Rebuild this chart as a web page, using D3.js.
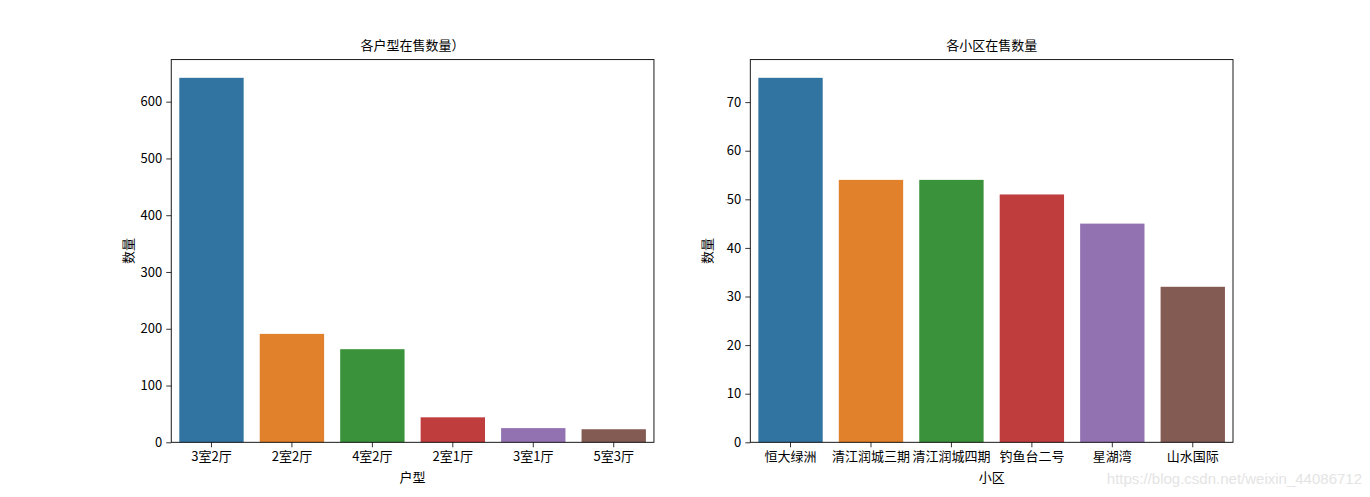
<!DOCTYPE html>
<html>
<head>
<meta charset="utf-8">
<script src="https://cdn.jsdelivr.net/npm/d3@7"></script>
<style>
  body { margin: 0; background: #fff; }
  svg { font-family: 'Noto Sans CJK SC', 'Noto Sans', sans-serif; }
</style>
</head>
<body>
<div id="chart"></div>
<script>
// data
const layoutNames = ['3室2厅', '2室2厅', '4室2厅', '2室1厅', '3室1厅', '5室3厅'];
const layoutCounts = [642, 191, 164, 44, 25, 23];
const layoutTicks = [0, 100, 200, 300, 400, 500, 600];

const estateNames = ['恒大绿洲', '清江润城三期', '清江润城四期', '钓鱼台二号', '星湖湾', '山水国际'];
const estateCounts = [75, 54, 54, 51, 45, 32];
const estateTicks = [0, 10, 20, 30, 40, 50, 60, 70];

const palette = ['#3274a1', '#e1812c', '#3a923a', '#c03d3e', '#9372b2', '#845b53'];

const width = 1370;
const height = 497;

const svg = d3.select('#chart')
  .append('svg')
  .attr('width', width)
  .attr('height', height);

function drawPanel(left, names, counts, ticks, title, xLabel) {
  const w = 482.7;
  const top = 59.6;
  const bottom = 442.3;

  const g = svg.append('g');

  const x = d3.scaleBand()
    .domain(names)
    .range([left, left + w])
    .paddingInner(0.2)
    .paddingOuter(0.1);

  const y = d3.scaleLinear()
    .domain([0, d3.max(counts) * 1.05])
    .range([bottom, top]);

  // bars
  g.selectAll('rect.bar')
    .data(names)
    .join('rect')
    .attr('class', 'bar')
    .attr('x', d => x(d))
    .attr('width', x.bandwidth())
    .attr('y', (d, i) => y(counts[i]))
    .attr('height', (d, i) => y(0) - y(counts[i]))
    .attr('fill', (d, i) => palette[i]);

  // axes
  const xAxis = g.append('g')
    .attr('transform', `translate(0, ${bottom})`)
    .call(d3.axisBottom(x).tickSize(5).tickPadding(4));
  const yAxis = g.append('g')
    .attr('transform', `translate(${left}, 0)`)
    .call(d3.axisLeft(y).tickValues(ticks).tickSize(5).tickPadding(4));

  [xAxis, yAxis].forEach(a => {
    a.select('.domain').remove();
    a.selectAll('text').attr('font-size', 13).attr('fill', '#000')
      .attr('font-family', "'Noto Sans CJK SC', sans-serif");
    a.selectAll('line').attr('stroke', '#000').attr('stroke-width', 0.8);
  });

  // frame
  g.append('rect')
    .attr('x', left)
    .attr('y', top)
    .attr('width', w)
    .attr('height', bottom - top)
    .attr('fill', 'none')
    .attr('stroke', '#000')
    .attr('stroke-width', 0.9);

  // title and labels
  g.append('text')
    .attr('x', left + w / 2)
    .attr('y', 50)
    .attr('text-anchor', 'middle')
    .attr('font-size', 13)
    .text(title);

  g.append('text')
    .attr('x', left + w / 2)
    .attr('y', 482)
    .attr('text-anchor', 'middle')
    .attr('font-size', 13)
    .text(xLabel);

  g.append('text')
    .attr('transform', `translate(${left - 38}, ${(top + bottom) / 2}) rotate(-90)`)
    .attr('text-anchor', 'middle')
    .attr('font-size', 13)
    .text('数量');
}

drawPanel(171.25, layoutNames, layoutCounts, layoutTicks, '各户型在售数量）', '户型');
drawPanel(750.3, estateNames, estateCounts, estateTicks, '各小区在售数量', '小区');

// watermark
svg.append('text')
  .attr('x', 1362)
  .attr('y', 484)
  .attr('text-anchor', 'end')
  .attr('font-size', 15)
  .attr('font-family', "'Liberation Sans', Arial, sans-serif")
  .attr('fill', '#e4e4e4')
  .text('https://blog.csdn.net/weixin_44086712');
</script>
</body>
</html>
